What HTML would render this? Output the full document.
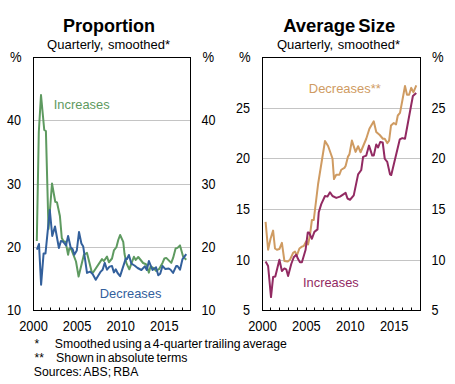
<!DOCTYPE html>
<html><head><meta charset="utf-8"><style>
html,body{margin:0;padding:0;background:#fff;}
svg{display:block;}
</style></head><body>
<svg width="455" height="384" viewBox="0 0 455 384" font-family="Liberation Sans, sans-serif">
<rect width="455" height="384" fill="#fff"/>
<line x1="33.5" x2="190.5" y1="120.5" y2="120.5" stroke="#c4c4c4" stroke-width="1"/>
<line x1="33.5" x2="190.5" y1="184.5" y2="184.5" stroke="#c4c4c4" stroke-width="1"/>
<line x1="33.5" x2="190.5" y1="247.5" y2="247.5" stroke="#c4c4c4" stroke-width="1"/>
<line x1="41.5" x2="41.5" y1="307.5" y2="310.5" stroke="#000" stroke-width="1"/>
<line x1="50.5" x2="50.5" y1="307.5" y2="310.5" stroke="#000" stroke-width="1"/>
<line x1="59.5" x2="59.5" y1="307.5" y2="310.5" stroke="#000" stroke-width="1"/>
<line x1="68.5" x2="68.5" y1="307.5" y2="310.5" stroke="#000" stroke-width="1"/>
<line x1="76.5" x2="76.5" y1="307.5" y2="310.5" stroke="#000" stroke-width="1"/>
<line x1="85.5" x2="85.5" y1="307.5" y2="310.5" stroke="#000" stroke-width="1"/>
<line x1="94.5" x2="94.5" y1="307.5" y2="310.5" stroke="#000" stroke-width="1"/>
<line x1="103.5" x2="103.5" y1="307.5" y2="310.5" stroke="#000" stroke-width="1"/>
<line x1="111.5" x2="111.5" y1="307.5" y2="310.5" stroke="#000" stroke-width="1"/>
<line x1="120.5" x2="120.5" y1="307.5" y2="310.5" stroke="#000" stroke-width="1"/>
<line x1="129.5" x2="129.5" y1="307.5" y2="310.5" stroke="#000" stroke-width="1"/>
<line x1="138.5" x2="138.5" y1="307.5" y2="310.5" stroke="#000" stroke-width="1"/>
<line x1="147.5" x2="147.5" y1="307.5" y2="310.5" stroke="#000" stroke-width="1"/>
<line x1="155.5" x2="155.5" y1="307.5" y2="310.5" stroke="#000" stroke-width="1"/>
<line x1="164.5" x2="164.5" y1="307.5" y2="310.5" stroke="#000" stroke-width="1"/>
<line x1="173.5" x2="173.5" y1="307.5" y2="310.5" stroke="#000" stroke-width="1"/>
<line x1="182.5" x2="182.5" y1="307.5" y2="310.5" stroke="#000" stroke-width="1"/>
<rect x="33.5" y="57.5" width="157.0" height="253.0" fill="none" stroke="#000" stroke-width="1"/>
<line x1="262.5" x2="420.5" y1="108.5" y2="108.5" stroke="#c4c4c4" stroke-width="1"/>
<line x1="262.5" x2="420.5" y1="158.5" y2="158.5" stroke="#c4c4c4" stroke-width="1"/>
<line x1="262.5" x2="420.5" y1="209.5" y2="209.5" stroke="#c4c4c4" stroke-width="1"/>
<line x1="262.5" x2="420.5" y1="260.5" y2="260.5" stroke="#c4c4c4" stroke-width="1"/>
<line x1="270.5" x2="270.5" y1="307.5" y2="310.5" stroke="#000" stroke-width="1"/>
<line x1="279.5" x2="279.5" y1="307.5" y2="310.5" stroke="#000" stroke-width="1"/>
<line x1="288.5" x2="288.5" y1="307.5" y2="310.5" stroke="#000" stroke-width="1"/>
<line x1="297.5" x2="297.5" y1="307.5" y2="310.5" stroke="#000" stroke-width="1"/>
<line x1="306.5" x2="306.5" y1="307.5" y2="310.5" stroke="#000" stroke-width="1"/>
<line x1="314.5" x2="314.5" y1="307.5" y2="310.5" stroke="#000" stroke-width="1"/>
<line x1="323.5" x2="323.5" y1="307.5" y2="310.5" stroke="#000" stroke-width="1"/>
<line x1="332.5" x2="332.5" y1="307.5" y2="310.5" stroke="#000" stroke-width="1"/>
<line x1="341.5" x2="341.5" y1="307.5" y2="310.5" stroke="#000" stroke-width="1"/>
<line x1="349.5" x2="349.5" y1="307.5" y2="310.5" stroke="#000" stroke-width="1"/>
<line x1="358.5" x2="358.5" y1="307.5" y2="310.5" stroke="#000" stroke-width="1"/>
<line x1="367.5" x2="367.5" y1="307.5" y2="310.5" stroke="#000" stroke-width="1"/>
<line x1="376.5" x2="376.5" y1="307.5" y2="310.5" stroke="#000" stroke-width="1"/>
<line x1="385.5" x2="385.5" y1="307.5" y2="310.5" stroke="#000" stroke-width="1"/>
<line x1="393.5" x2="393.5" y1="307.5" y2="310.5" stroke="#000" stroke-width="1"/>
<line x1="402.5" x2="402.5" y1="307.5" y2="310.5" stroke="#000" stroke-width="1"/>
<line x1="411.5" x2="411.5" y1="307.5" y2="310.5" stroke="#000" stroke-width="1"/>
<rect x="262.5" y="57.5" width="158.0" height="253.0" fill="none" stroke="#000" stroke-width="1"/>
<polyline points="36.80,241.00 38.80,132.00 41.00,95.00 44.25,130.00 45.90,131.00 48.50,229.00 52.00,183.50 55.25,201.75 57.00,202.40 59.90,216.00 61.80,238.00 63.50,241.30 65.60,241.75 68.10,254.70 69.30,248.40 71.40,249.70 76.00,261.50 78.60,276.60 83.90,254.75 87.00,252.90 92.00,272.90 93.25,272.25 102.00,259.10 103.90,261.00 107.00,256.60 108.90,262.25 112.00,258.50 113.90,250.40 116.40,247.25 118.25,240.00 120.10,235.00 123.25,241.90 124.50,253.75 126.40,263.10 129.30,269.30 133.90,256.75 135.75,259.90 138.25,257.00 143.10,263.00 146.00,264.25 148.90,272.60 150.60,266.30 153.90,268.40 156.00,270.90 159.30,268.80 162.50,262.90 164.40,258.50 166.25,257.90 168.75,260.40 171.25,262.90 173.10,257.90 175.60,248.50 177.50,247.90 180.00,245.40 183.10,256.60 186.25,259.75" fill="none" stroke="#5e9a60" stroke-width="2.0" stroke-linejoin="round"/>
<polyline points="36.90,249.60 39.00,244.00 41.10,284.75 43.60,253.40 45.50,253.40 49.80,210.00 52.25,236.00 55.00,226.50 58.90,248.00 61.00,240.90 63.10,241.75 66.00,245.50 68.10,235.90 70.60,247.20 72.70,249.25 74.30,254.70 76.80,250.50 79.00,232.00 81.40,243.50 83.25,246.60 87.00,272.90 90.10,271.60 92.60,274.00 95.75,279.75 100.75,271.60 102.60,269.75 104.75,262.90 107.00,269.75 109.50,266.60 112.00,266.00 113.90,272.40 115.75,269.25 117.60,273.00 120.10,276.10 125.75,258.60 127.00,259.00 128.90,255.00 131.40,263.70 134.50,265.50 137.60,268.00 141.40,270.00 144.75,266.30 146.80,270.00 148.90,261.00 152.50,270.00 156.00,267.20 158.25,275.30 160.20,273.80 162.50,266.00 165.40,269.10 168.75,268.50 170.60,269.75 173.10,272.90 176.25,266.00 177.50,266.00 180.00,269.75 182.50,259.10 186.25,254.10" fill="none" stroke="#33609c" stroke-width="2.0" stroke-linejoin="round"/>
<polyline points="265.60,221.90 268.10,249.75 270.60,238.50 273.10,230.60 275.00,248.50 276.90,249.75 279.40,249.00 281.90,242.90 284.40,261.00 287.50,261.60 290.00,259.75 293.10,252.90 295.00,251.60 296.90,255.40 299.40,248.50 301.90,246.60 303.75,246.00 306.25,241.25 308.10,244.40 310.00,235.00 311.90,220.00 313.75,220.00 318.10,184.00 325.00,141.00 328.10,146.00 332.50,158.50 334.00,179.10 336.25,174.75 339.40,174.75 341.25,169.75 344.40,167.90 345.60,166.00 348.00,156.60 349.40,154.40 351.90,140.60 355.60,151.90 358.10,146.25 360.60,152.25 366.25,138.75 369.40,128.75 373.75,121.25 376.25,131.90 379.75,135.00 382.90,138.75 384.75,138.75 387.25,143.10 389.10,140.60 391.00,125.60 393.80,123.00 396.00,124.50 397.80,115.50 400.00,112.90 402.25,101.00 405.00,86.00 407.00,94.75 409.10,94.75 411.25,87.90 413.50,92.25 416.25,85.40" fill="none" stroke="#cf9b62" stroke-width="2.0" stroke-linejoin="round"/>
<polyline points="265.60,261.60 268.10,266.00 271.00,297.10 273.10,277.10 275.30,276.60 279.40,259.75 281.90,271.00 284.40,268.40 286.25,269.30 288.10,276.00 291.25,264.00 293.75,257.25 296.25,254.75 298.10,259.10 300.00,262.25 301.90,262.25 305.60,249.75 307.75,232.50 309.00,232.50 311.90,238.75 314.40,231.90 317.50,229.40 318.75,212.25 321.25,204.10 325.00,196.00 327.50,196.60 330.00,192.25 332.50,196.00 336.25,197.90 340.00,196.60 345.60,192.90 347.50,198.50 350.00,199.75 353.75,195.40 358.10,174.40 361.25,170.00 363.10,156.90 366.25,155.60 369.00,145.60 372.25,155.60 373.75,155.60 376.25,144.40 378.10,147.50 380.20,142.00 382.70,142.50 384.75,158.75 387.25,161.90 390.00,174.40 391.25,175.00 399.75,139.40 402.25,138.10 405.00,138.75 411.25,104.75 412.90,96.00 416.25,92.90" fill="none" stroke="#922a62" stroke-width="2.0" stroke-linejoin="round"/>
<text x="109" y="32.2" font-size="17.5" text-anchor="middle" font-weight="bold" fill="#000" textLength="92" lengthAdjust="spacingAndGlyphs">Proportion</text>
<text x="339.2" y="32.2" font-size="17.5" text-anchor="middle" font-weight="bold" fill="#000" textLength="112" lengthAdjust="spacingAndGlyphs" word-spacing="-2">Average Size</text>
<text x="108.6" y="48.8" font-size="12.8" text-anchor="middle" font-weight="normal" fill="#000" textLength="123" lengthAdjust="spacingAndGlyphs" word-spacing="1">Quarterly, smoothed*</text>
<text x="338.5" y="48.8" font-size="12.8" text-anchor="middle" font-weight="normal" fill="#000" textLength="123" lengthAdjust="spacingAndGlyphs" word-spacing="1">Quarterly, smoothed*</text>
<text x="21.5" y="62" font-size="14" text-anchor="end" font-weight="normal" fill="#000" textLength="11.6" lengthAdjust="spacingAndGlyphs">%</text>
<text x="250.5" y="62" font-size="14" text-anchor="end" font-weight="normal" fill="#000" textLength="11.6" lengthAdjust="spacingAndGlyphs">%</text>
<text x="202.5" y="62" font-size="14" text-anchor="start" font-weight="normal" fill="#000" textLength="11.6" lengthAdjust="spacingAndGlyphs">%</text>
<text x="432" y="62" font-size="14" text-anchor="start" font-weight="normal" fill="#000" textLength="11.6" lengthAdjust="spacingAndGlyphs">%</text>
<text x="21" y="125" font-size="14" text-anchor="end" font-weight="normal" fill="#000" textLength="14.0" lengthAdjust="spacingAndGlyphs">40</text>
<text x="201.5" y="125" font-size="14" text-anchor="start" font-weight="normal" fill="#000" textLength="14.0" lengthAdjust="spacingAndGlyphs">40</text>
<text x="21" y="189" font-size="14" text-anchor="end" font-weight="normal" fill="#000" textLength="14.0" lengthAdjust="spacingAndGlyphs">30</text>
<text x="201.5" y="189" font-size="14" text-anchor="start" font-weight="normal" fill="#000" textLength="14.0" lengthAdjust="spacingAndGlyphs">30</text>
<text x="21" y="252" font-size="14" text-anchor="end" font-weight="normal" fill="#000" textLength="14.0" lengthAdjust="spacingAndGlyphs">20</text>
<text x="201.5" y="252" font-size="14" text-anchor="start" font-weight="normal" fill="#000" textLength="14.0" lengthAdjust="spacingAndGlyphs">20</text>
<text x="21" y="315" font-size="14" text-anchor="end" font-weight="normal" fill="#000" textLength="14.0" lengthAdjust="spacingAndGlyphs">10</text>
<text x="201.5" y="315" font-size="14" text-anchor="start" font-weight="normal" fill="#000" textLength="14.0" lengthAdjust="spacingAndGlyphs">10</text>
<text x="250" y="113" font-size="14" text-anchor="end" font-weight="normal" fill="#000" textLength="14.0" lengthAdjust="spacingAndGlyphs">25</text>
<text x="431.5" y="113" font-size="14" text-anchor="start" font-weight="normal" fill="#000" textLength="14.0" lengthAdjust="spacingAndGlyphs">25</text>
<text x="250" y="163" font-size="14" text-anchor="end" font-weight="normal" fill="#000" textLength="14.0" lengthAdjust="spacingAndGlyphs">20</text>
<text x="431.5" y="163" font-size="14" text-anchor="start" font-weight="normal" fill="#000" textLength="14.0" lengthAdjust="spacingAndGlyphs">20</text>
<text x="250" y="214" font-size="14" text-anchor="end" font-weight="normal" fill="#000" textLength="14.0" lengthAdjust="spacingAndGlyphs">15</text>
<text x="431.5" y="214" font-size="14" text-anchor="start" font-weight="normal" fill="#000" textLength="14.0" lengthAdjust="spacingAndGlyphs">15</text>
<text x="250" y="265" font-size="14" text-anchor="end" font-weight="normal" fill="#000" textLength="14.0" lengthAdjust="spacingAndGlyphs">10</text>
<text x="431.5" y="265" font-size="14" text-anchor="start" font-weight="normal" fill="#000" textLength="14.0" lengthAdjust="spacingAndGlyphs">10</text>
<text x="250" y="315" font-size="14" text-anchor="end" font-weight="normal" fill="#000" textLength="7.0" lengthAdjust="spacingAndGlyphs">5</text>
<text x="431.5" y="315" font-size="14" text-anchor="start" font-weight="normal" fill="#000" textLength="7.0" lengthAdjust="spacingAndGlyphs">5</text>
<text x="33.5" y="331" font-size="14" text-anchor="middle" font-weight="normal" fill="#000" textLength="28.6" lengthAdjust="spacingAndGlyphs">2000</text>
<text x="262.5" y="331" font-size="14" text-anchor="middle" font-weight="normal" fill="#000" textLength="28.6" lengthAdjust="spacingAndGlyphs">2000</text>
<text x="77.1" y="331" font-size="14" text-anchor="middle" font-weight="normal" fill="#000" textLength="28.6" lengthAdjust="spacingAndGlyphs">2005</text>
<text x="306.4" y="331" font-size="14" text-anchor="middle" font-weight="normal" fill="#000" textLength="28.6" lengthAdjust="spacingAndGlyphs">2005</text>
<text x="120.7" y="331" font-size="14" text-anchor="middle" font-weight="normal" fill="#000" textLength="28.6" lengthAdjust="spacingAndGlyphs">2010</text>
<text x="350.3" y="331" font-size="14" text-anchor="middle" font-weight="normal" fill="#000" textLength="28.6" lengthAdjust="spacingAndGlyphs">2010</text>
<text x="164.3" y="331" font-size="14" text-anchor="middle" font-weight="normal" fill="#000" textLength="28.6" lengthAdjust="spacingAndGlyphs">2015</text>
<text x="394.2" y="331" font-size="14" text-anchor="middle" font-weight="normal" fill="#000" textLength="28.6" lengthAdjust="spacingAndGlyphs">2015</text>
<text x="53.8" y="108.6" font-size="13.5" text-anchor="start" font-weight="normal" fill="#5e9a60" textLength="55.8" lengthAdjust="spacingAndGlyphs">Increases</text>
<text x="99.8" y="297.5" font-size="13.5" text-anchor="start" font-weight="normal" fill="#33609c" textLength="61.6" lengthAdjust="spacingAndGlyphs">Decreases</text>
<text x="308.8" y="92.7" font-size="13.5" text-anchor="start" font-weight="normal" fill="#cf9b62" textLength="72" lengthAdjust="spacingAndGlyphs">Decreases**</text>
<text x="303" y="287.2" font-size="13.5" text-anchor="start" font-weight="normal" fill="#922a62" textLength="55.7" lengthAdjust="spacingAndGlyphs">Increases</text>
<text x="34.5" y="348.4" font-size="12" text-anchor="start" font-weight="normal" fill="#000">*</text>
<text x="54.8" y="348.4" font-size="12.3" text-anchor="start" font-weight="normal" fill="#000" textLength="232" lengthAdjust="spacingAndGlyphs" word-spacing="-1.3">Smoothed using a 4-quarter trailing average</text>
<text x="34.5" y="362" font-size="12" text-anchor="start" font-weight="normal" fill="#000">**</text>
<text x="56" y="362" font-size="12.3" text-anchor="start" font-weight="normal" fill="#000" textLength="131.5" lengthAdjust="spacingAndGlyphs" word-spacing="-1.3">Shown in absolute terms</text>
<text x="33.8" y="376" font-size="12.3" text-anchor="start" font-weight="normal" fill="#000" textLength="104.5" lengthAdjust="spacingAndGlyphs" word-spacing="-1.3">Sources: ABS; RBA</text>
</svg>
</body></html>
